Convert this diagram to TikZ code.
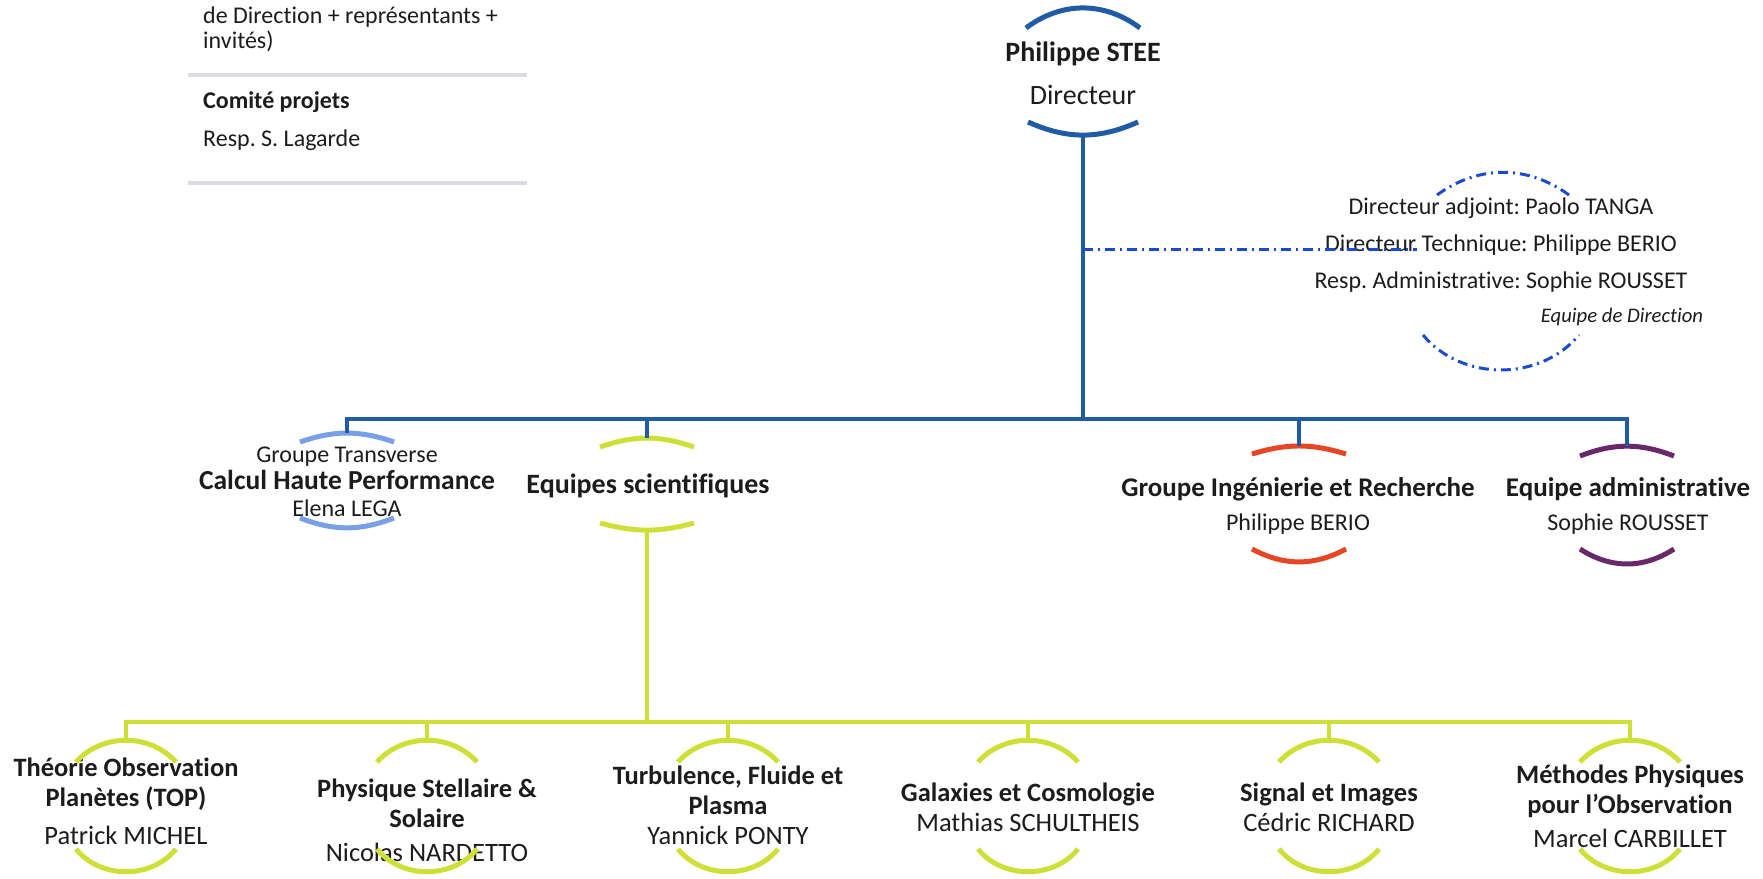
\documentclass[tikz,border=0pt]{standalone}
\usepackage{fontspec}
\setmainfont[Ligatures = NoCommon]{Carlito}
\frenchspacing
\definecolor{ink}{RGB}{28,28,28}
\definecolor{dirblue}{RGB}{32,92,165}
\definecolor{chpblue}{RGB}{120,160,230}
\definecolor{lime}{RGB}{206,224,56}
\definecolor{girred}{RGB}{230,70,35}
\definecolor{eapurple}{RGB}{105,40,105}
\definecolor{dashblue}{RGB}{25,75,205}
\definecolor{rulegray}{RGB}{218,220,226}
\begin{document}
\begin{tikzpicture}[x = 1pt, y = -1pt,
   every node/.style = {inner sep = 0pt, text = ink},
   small txt/.style = {font = \fontsize{24}{27}\selectfont},
   big txt/.style = {font = \fontsize{26.5}{30}\selectfont, align = center},
   bow/.style = {line width = 5pt},
   bus/.style = {line width = 4.5pt, dirblue},
   gbus/.style = {line width = 4pt, lime},
   link/.style = {line width = 3pt, dashblue, dash pattern = on 10pt off 5pt on 2pt off 5pt},
   sepline/.style = {line width = 3.5pt, rulegray}]
\useasboundingbox (0,0) rectangle (1763,878);

\node[small txt, font = \fontsize{24}{25}\selectfont, align = left, anchor = north west] (copil) at (203,7) {de Direction + représentants +\\invités)};
\draw[sepline] (188,75) -- (527,75);
\node[small txt, font = \fontsize{24}{27}\selectfont\bfseries, anchor = base west] (comite) at (203,108) {Comité projets};
\node[small txt, anchor = base west] (resp) at (203,146) {Resp. S. Lagarde};
\draw[sepline] (188,183) -- (527,183);

\node[align = center, font = \fontsize{28}{34}\selectfont] (dir) at (1083,73) {\textbf{Philippe STEE}\\[9pt]Directeur};
\coordinate (dir-t) at (1083,8);
\coordinate (dir-b) at (1083,135);
\draw[bow, dirblue] (dir-t) ++(-57,20) to[bend left = 37] ++(114,0);
\draw[bow, dirblue] (dir-b) ++(-55,-13) to[bend right = 24] ++(110,0);

\node[small txt, font = \fontsize{24}{37}\selectfont, align = center] (team) at (1501,245) {Directeur adjoint: Paolo TANGA\\Directeur Technique: Philippe BERIO\\Resp. Administrative: Sophie ROUSSET};
\node[font = \fontsize{20.7}{24}\selectfont\itshape] (team-lbl) at (1622,317) {Equipe de Direction};
\coordinate (team-t) at (1503,172);
\coordinate (team-b) at (1501,370);
\draw[link] (team-t) ++(-66,23) to[bend left = 36] ++(132,0);
\draw[link] (team-b) ++(-78,-35) to[bend right = 50] ++(156,0);

\node[small txt, align = center] (chp) at (347,482) {Groupe Transverse\\{\fontsize{27.5}{27}\selectfont\bfseries Calcul Haute Performance}\\Elena LEGA};
\node[font = \fontsize{28}{30}\selectfont\bfseries] (es) at (648,486) {Equipes scientifiques};
\node[small txt, align = center] (gir) at (1298,506) {{\fontsize{27}{27}\selectfont\bfseries Groupe Ingénierie et Recherche}\\[7pt]Philippe BERIO};
\node[small txt, align = center] (ea) at (1628,506) {{\fontsize{27}{27}\selectfont\bfseries Equipe administrative}\\[7pt]Sophie ROUSSET};
\coordinate (chp-t) at (347,433);
\coordinate (chp-b) at (347,528);
\coordinate (es-t) at (647,438);
\coordinate (es-b) at (647,530);
\coordinate (gir-t) at (1299,446);
\coordinate (gir-b) at (1299,562);
\coordinate (ea-t) at (1627,446);
\coordinate (ea-b) at (1627,564);

\foreach \g/\col/\tsag/\tang/\bsag/\bang in {chp/chpblue/9/19/10/21, es/lime/9/19/7/15, gir/girred/8/17/13/28, ea/eapurple/10/21/15/33}{
   \draw[bow, \col] (\g-t) ++(-47,\tsag) to[bend left = \tang] ++(94,0);
   \draw[bow, \col] (\g-b) ++(-47,-\bsag) to[bend right = \bang] ++(94,0);
   }

\coordinate (hub) at (1083,419);
\draw[bus] (dir-b) -- (hub);
\draw[bus] (chp-t) |- (hub) -| (ea-t);
\foreach \g in {es, gir}
   \draw[bus] (\g-t) -- (\g-t |- hub);

\coordinate (dir-l) at (1083,249);
\coordinate (team-l) at (1417,249);
\draw[link] (dir-l) -- (team-l);

\foreach \g/\x/\y/\txt in {
   top/126/801/{\textbf{Théorie Observation}\\\textbf{Planètes (TOP)}\\[8pt]Patrick MICHEL},
   pss/427/820/{\textbf{Physique Stellaire \&}\\\textbf{Solaire}\\[4pt]Nicolas NARDETTO},
   tfp/728/805/{\textbf{Turbulence, Fluide et}\\\textbf{Plasma}\\Yannick PONTY},
   gc/1028/807/{\textbf{Galaxies et Cosmologie}\\Mathias SCHULTHEIS},
   si/1329/807/{\textbf{Signal et Images}\\Cédric RICHARD},
   mpo/1630/806/{\textbf{Méthodes Physiques}\\\textbf{pour l’Observation}\\[4pt]Marcel CARBILLET}}{
   \node[big txt] (\g) at (\x,\y) {\txt};
   \coordinate (\g-t) at (\x,740);
   \coordinate (\g-b) at (\x,872);
   \draw[bow, lime] (\g-t) ++(-50,22) to[bend left = 48] ++(100,0);
   \draw[bow, lime] (\g-b) ++(-50,-23) to[bend right = 51] ++(100,0);
   }

\coordinate (ghub) at (647,722);
\draw[gbus] (es-b) -- (ghub);
\draw[gbus] (top-t) |- (ghub) -| (mpo-t);
\foreach \g in {pss, tfp, gc, si}
   \draw[gbus] (\g-t) -- (\g-t |- ghub);
\end{tikzpicture}
\end{document}
